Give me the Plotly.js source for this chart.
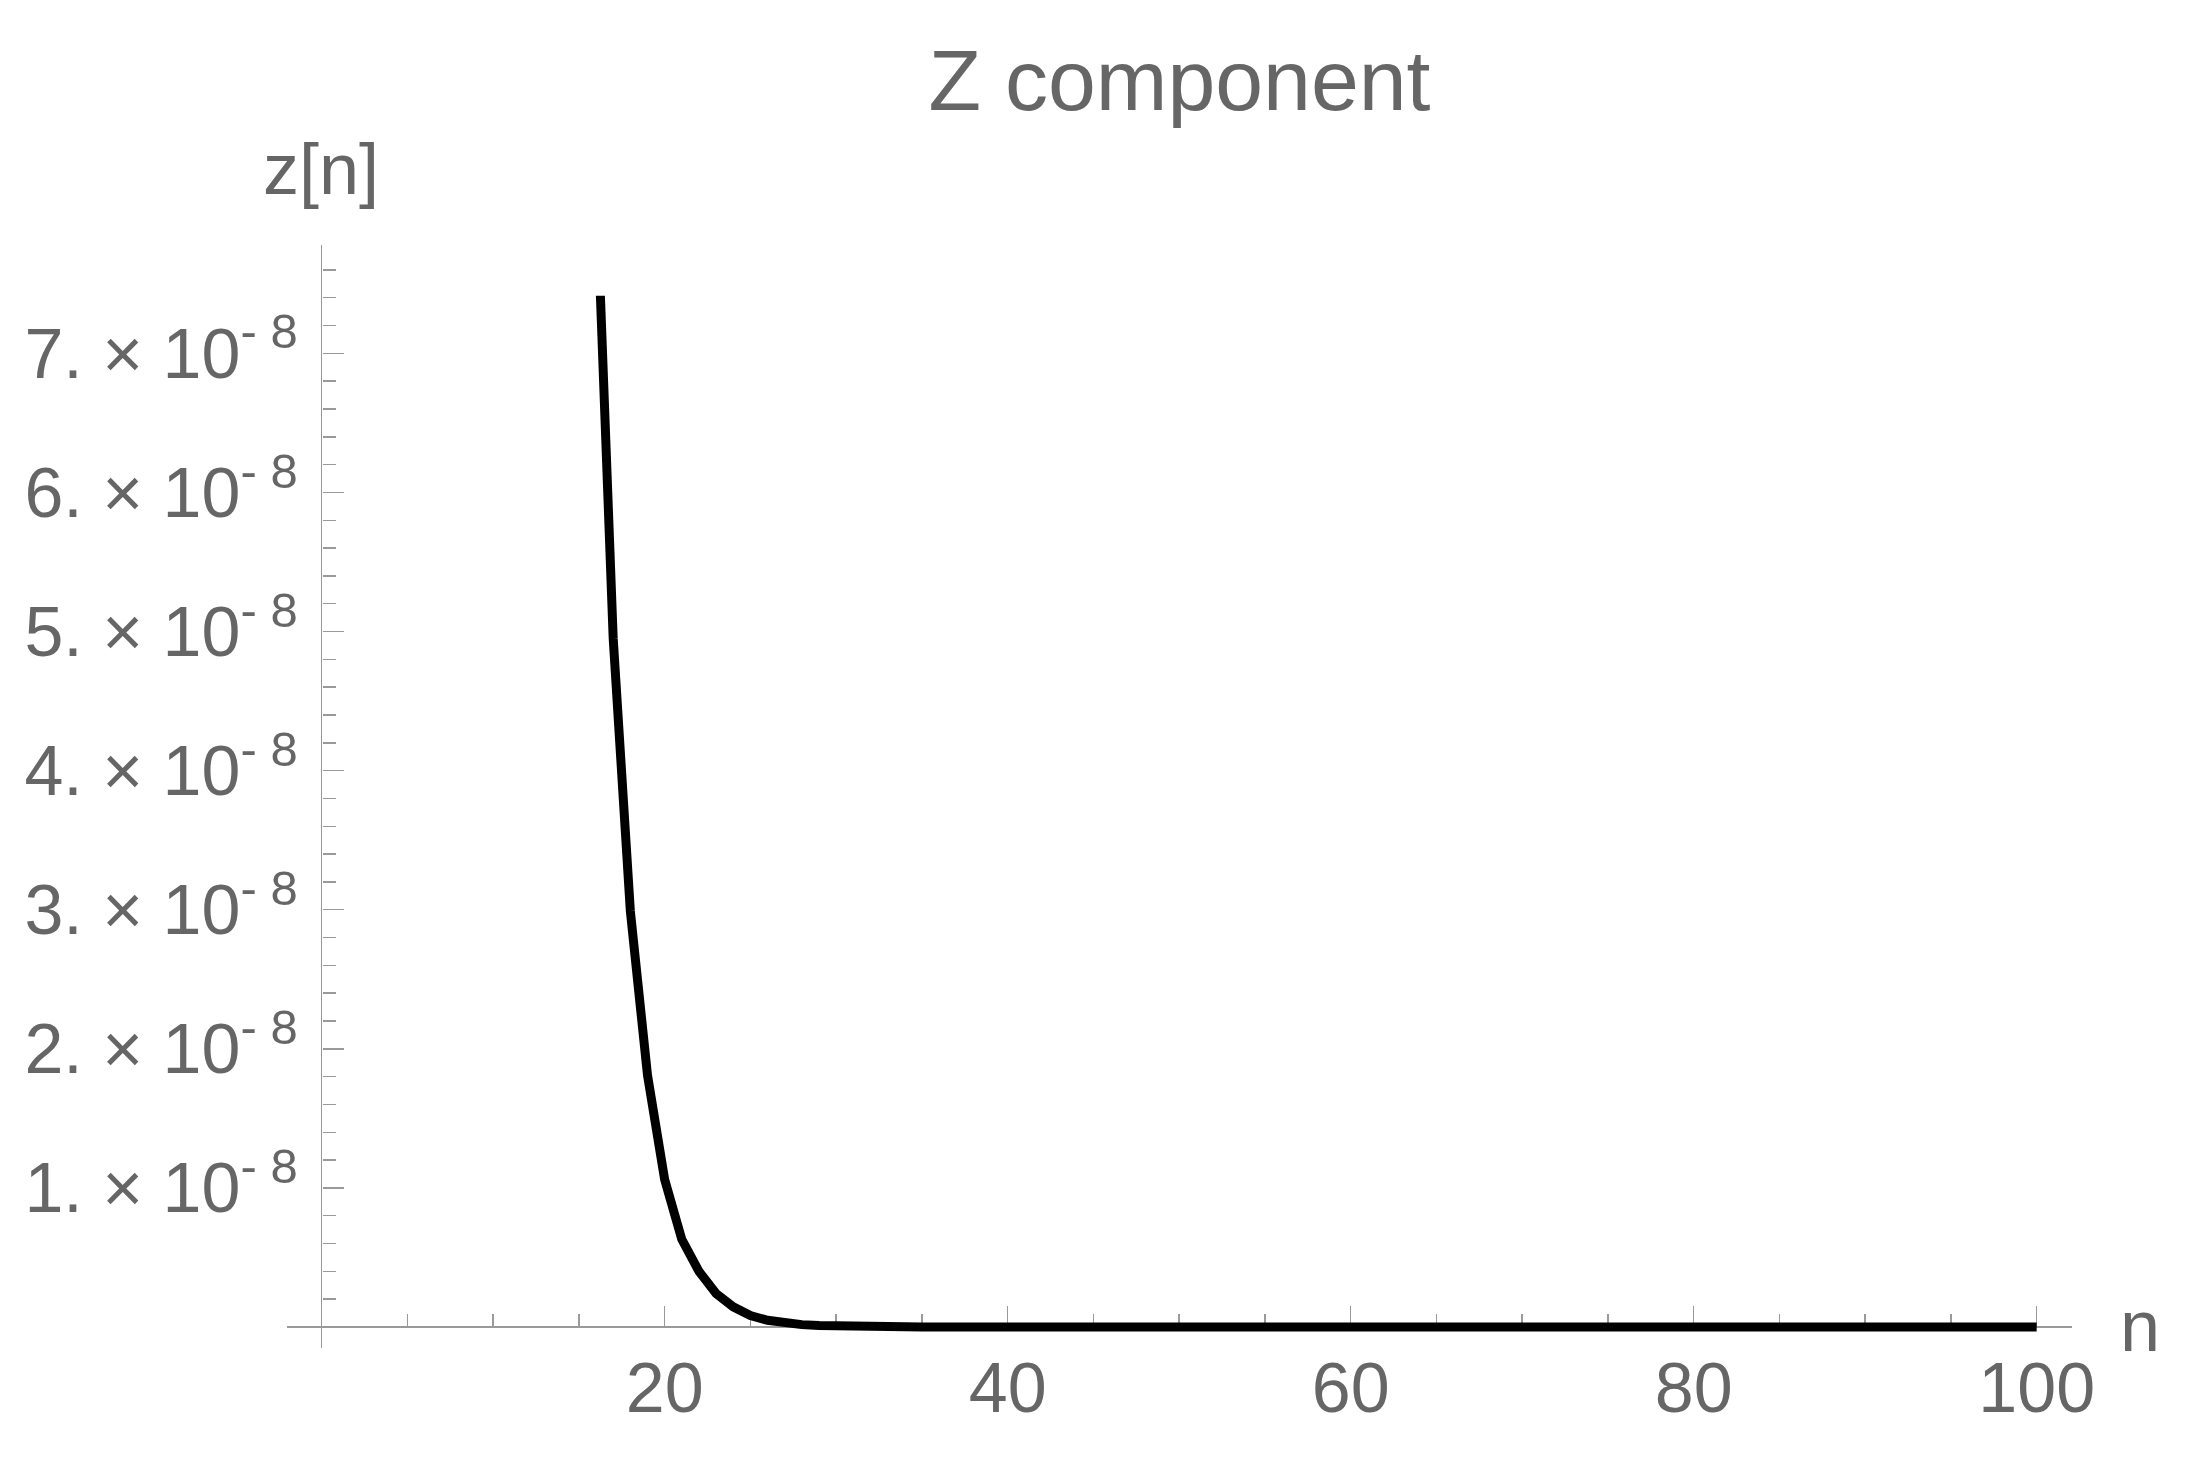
<!DOCTYPE html>
<html>
<head>
<meta charset="utf-8">
<script src="https://cdn.plot.ly/plotly-3.0.1.min.js"></script>
<style>
html, body { margin: 0; padding: 0; background: #ffffff; }
#chart { width: 2196px; height: 1460px; }
</style>
</head>
<body>
<div id="chart"></div>
<script>
// ---- data ----
const nValues = [16, 17, 18, 19, 20, 21, 22, 23, 24, 25, 26, 27, 28, 29, 30,
  31, 32, 33, 34, 35, 36, 37, 38, 39, 40, 41, 42, 43, 44, 45, 46, 47, 48, 49, 50,
  51, 52, 53, 54, 55, 56, 57, 58, 59, 60, 61, 62, 63, 64, 65, 66, 67, 68, 69, 70,
  71, 72, 73, 74, 75, 76, 77, 78, 79, 80, 81, 82, 83, 84, 85, 86, 87, 88, 89, 90,
  91, 92, 93, 94, 95, 96, 97, 98, 99, 100];
const zValues = [8.25e-8, 4.95e-8, 2.99e-8, 1.81e-8, 1.06e-8, 0.63e-8, 0.40e-8, 0.24e-8,
  0.145e-8, 0.082e-8, 0.048e-8, 0.029e-8, 0.017e-8, 0.010e-8, 0.006e-8,
  0.0035e-8, 0.002e-8, 0.0012e-8, 0.0007e-8, 0.0004e-8, 0.0002e-8, 0.0001e-8,
  0, 0, 0, 0, 0, 0, 0, 0, 0, 0, 0, 0, 0,
  0, 0, 0, 0, 0, 0, 0, 0, 0, 0, 0, 0, 0, 0, 0, 0, 0, 0, 0, 0,
  0, 0, 0, 0, 0, 0, 0, 0, 0, 0, 0, 0, 0, 0, 0, 0, 0, 0, 0, 0,
  0, 0, 0, 0, 0, 0, 0, 0, 0, 0];
const xTickVals = [20, 40, 60, 80, 100];
const xTickText = ['20', '40', '60', '80', '100'];
const yTickVals = [1e-8, 2e-8, 3e-8, 4e-8, 5e-8, 6e-8, 7e-8];
const yTickText = ['1. \u00d7 10<sup>- 8</sup>', '2. \u00d7 10<sup>- 8</sup>', '3. \u00d7 10<sup>- 8</sup>',
  '4. \u00d7 10<sup>- 8</sup>', '5. \u00d7 10<sup>- 8</sup>', '6. \u00d7 10<sup>- 8</sup>', '7. \u00d7 10<sup>- 8</sup>'];
const chartTitle = 'Z component';
const xLabel = 'n';
const yLabel = 'z[n]';

// ---- view settings ----
const xRange = [-2.02, 102.06];
const yRange = [-0.151e-8, 7.779e-8];
const yClipTop = 7.414e-8;   // top of the plotted data region

const gray = '#999999';
const textGray = '#666666';
const fontFam = 'Liberation Sans, Arial, Helvetica, sans-serif';

const xZeroPos = (0 - xRange[0]) / (xRange[1] - xRange[0]);
const yZeroPos = (0 - yRange[0]) / (yRange[1] - yRange[0]);
const clipDomain = (yClipTop - yRange[0]) / (yRange[1] - yRange[0]);

const traces = [
  { x: [], y: [], xaxis: 'x', yaxis: 'y', type: 'scatter', mode: 'lines', showlegend: false, hoverinfo: 'skip' },
  {
    x: nValues, y: zValues, xaxis: 'x', yaxis: 'y2',
    type: 'scatter', mode: 'lines',
    line: { color: '#000000', width: 9 },
    showlegend: false, hoverinfo: 'skip'
  }
];

const layout = {
  width: 2196, height: 1460,
  margin: { l: 287, r: 124, t: 245, b: 112, pad: 0 },
  paper_bgcolor: '#ffffff',
  plot_bgcolor: 'rgba(0,0,0,0)',
  font: { family: fontFam, color: textGray, size: 70 },
  showlegend: false,
  title: {
    text: chartTitle,
    x: 0.5, xref: 'paper', xanchor: 'center',
    y: 1 - 80 / 1460, yref: 'container', yanchor: 'middle',
    font: { family: fontFam, size: 86, color: textGray }
  },
  xaxis: {
    range: xRange, anchor: 'free', position: yZeroPos,
    showgrid: false, showline: false,
    zeroline: true, zerolinecolor: gray, zerolinewidth: 1.5,
    tickmode: 'array', tickvals: xTickVals, ticktext: xTickText,
    ticks: 'inside', ticklen: 21, tickwidth: 1.5, tickcolor: gray,
    ticklabelstandoff: 14,
    tickfont: { family: fontFam, size: 70, color: textGray },
    minor: { ticks: 'inside', ticklen: 13, tickwidth: 1.5, tickcolor: gray, tick0: 0, dtick: 5, showgrid: false }
  },
  yaxis: {
    range: yRange, anchor: 'free', position: xZeroPos,
    showgrid: false, showline: false,
    zeroline: true, zerolinecolor: gray, zerolinewidth: 1.5,
    tickmode: 'array', tickvals: yTickVals, ticktext: yTickText,
    ticks: 'inside', ticklen: 21, tickwidth: 1.5, tickcolor: gray,
    ticklabelstandoff: 24,
    tickfont: { family: fontFam, size: 70, color: textGray },
    minor: { ticks: 'inside', ticklen: 13, tickwidth: 1.5, tickcolor: gray, tick0: 0, dtick: 0.2e-8, showgrid: false }
  },
  yaxis2: {
    range: [yRange[0], yClipTop], domain: [0, clipDomain],
    anchor: 'free', position: 0, visible: false,
    showgrid: false, zeroline: false
  },
  annotations: [
    { text: yLabel, xref: 'paper', yref: 'paper', x: -0.0145, y: 1.069,
      xanchor: 'left', yanchor: 'middle', showarrow: false,
      font: { family: fontFam, size: 72, color: textGray } },
    { text: xLabel, xref: 'paper', yref: 'paper', x: 1.0258, y: 0.02,
      xanchor: 'left', yanchor: 'middle', showarrow: false,
      font: { family: fontFam, size: 72, color: textGray } }
  ]
};

Plotly.newPlot('chart', traces, layout, { staticPlot: true, displayModeBar: false });
</script>
</body>
</html>
